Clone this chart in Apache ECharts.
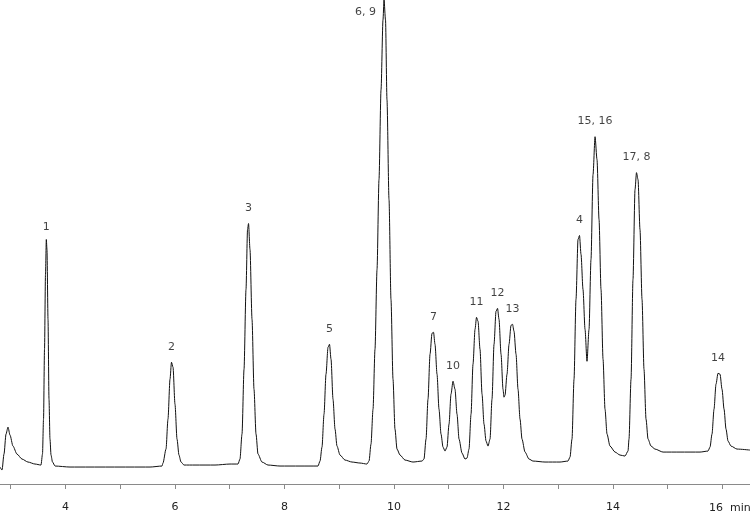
<!DOCTYPE html>
<html>
<head>
<meta charset="utf-8">
<script src="https://cdn.jsdelivr.net/npm/echarts@6/dist/echarts.min.js"></script>
<style>
  html, body { margin: 0; padding: 0; background: #fff; }
  #chart { width: 750px; height: 513px; }
</style>
</head>
<body>
<div id="chart"></div>
<script>
// retention time (min) and detector signal
var retentionTime = [
	2.805, 2.842, 2.878, 2.915, 2.951, 2.988, 3.042, 3.115, 3.207, 3.316, 3.444, 3.554,
	3.581, 3.600, 3.618, 3.636, 3.651, 3.663, 3.682, 3.700, 3.718, 3.737, 3.764, 3.810,
	4.084, 4.449, 4.814, 5.179, 5.545, 5.764,
	5.782, 5.837, 5.873, 5.910, 5.937, 5.965, 6.001, 6.038, 6.074, 6.111, 6.166, 6.367, 6.732, 7.006, 7.152,
	7.188, 7.225, 7.262, 7.298, 7.326, 7.344, 7.371, 7.408, 7.444, 7.481, 7.517, 7.590, 7.700, 7.919, 8.284, 8.613,
	8.650, 8.686, 8.723, 8.759, 8.796, 8.823, 8.851, 8.887, 8.924, 8.960, 9.015, 9.106, 9.234, 9.380, 9.508,
	9.545, 9.581, 9.618, 9.654, 9.691, 9.727, 9.764, 9.800, 9.819, 9.846, 9.873, 9.910, 9.946, 9.983, 10.019, 10.056, 10.111, 10.202, 10.348, 10.513,
	10.549, 10.586, 10.622, 10.659, 10.695, 10.723, 10.750, 10.787, 10.823, 10.860, 10.896, 10.933,
	10.969, 11.006, 11.042, 11.079, 11.115, 11.152, 11.189, 11.243, 11.298, 11.335,
	11.371, 11.408, 11.444, 11.481, 11.508, 11.536, 11.572, 11.609, 11.645, 11.682, 11.718,
	11.755, 11.791, 11.828, 11.864, 11.892, 11.919, 11.956, 11.992, 12.010,
	12.029, 12.065, 12.102, 12.138, 12.166, 12.193, 12.230, 12.266, 12.303, 12.339, 12.394, 12.467, 12.540, 12.759, 13.033, 13.179,
	13.216, 13.252, 13.289, 13.325, 13.362, 13.389, 13.417, 13.453, 13.490, 13.526,
	13.563, 13.599, 13.636, 13.673, 13.709, 13.746, 13.782, 13.819, 13.855, 13.892, 13.946, 14.038, 14.129, 14.220, 14.275,
	14.293, 14.330, 14.366, 14.403, 14.430, 14.458, 14.494, 14.531, 14.567, 14.604, 14.641, 14.695, 14.768, 14.915, 15.225, 15.590, 15.736,
	15.773, 15.809, 15.846, 15.882, 15.919, 15.956, 15.992, 16.029, 16.065, 16.102, 16.156, 16.266, 16.503
];
var signal = [
	17, 14, 30, 50, 57, 49, 38, 30, 25, 22, 20, 19,
	30, 65, 135, 210, 245, 235, 165, 85, 45, 29, 22, 18,
	17, 17, 17, 17, 17, 18,
	21, 35, 65, 105, 122, 117, 80, 45, 29, 22, 19, 19, 19, 20, 20,
	25, 50, 115, 195, 255, 261, 235, 165, 95, 50, 30, 22, 19, 18, 18, 18,
	23, 37, 70, 110, 137, 140, 125, 85, 55, 38, 29, 24, 22, 21, 20,
	23, 40, 75, 135, 215, 305, 395, 465, 485, 465, 385, 285, 185, 105, 55, 35, 29, 24, 22, 23,
	25, 45, 85, 130, 151, 152, 140, 110, 75, 50, 37, 33,
	37, 60, 90, 103, 95, 70, 45, 31, 25, 26,
	35, 70, 120, 155, 167, 163, 135, 90, 60, 43, 38,
	45, 85, 140, 173, 176, 165, 130, 95, 87,
	89, 110, 140, 159, 160, 153, 130, 95, 65, 45, 32, 25, 23, 22, 22, 23,
	27, 45, 105, 185, 245, 249, 230, 195, 155, 123,
	155, 225, 310, 348, 325, 265, 195, 125, 75, 50, 38, 32, 29, 28, 33,
	45, 105, 205, 295, 312, 305, 255, 185, 115, 65, 45, 38, 35, 32, 32, 32, 33,
	37, 50, 75, 100, 111, 110, 95, 75, 55, 43, 38, 35, 34
];

// axis ticks and labels (the last one is written together with the unit)
var tickTimes = [3, 4, 5, 6, 7, 8, 9, 10, 11, 12, 13, 14, 15, 16];
var labelTimes = [4, 6, 8, 10, 12, 14];
var lastLabel = '16  min';

// peak labels
var peakNames = ['1', '2', '3', '5', '6, 9', '7', '10', '11', '12', '13', '4', '15, 16', '17, 8', '14'];
var peakTimes = [3.651, 5.937, 7.344, 8.823, 9.819, 10.723, 11.079, 11.508, 11.892, 12.166, 13.389, 13.673, 14.430, 15.919];
var peakHeights = [245, 122, 261, 140, 485, 152, 103, 167, 176, 160, 249, 348, 312, 111];

var trace = [];
for (var i = 0; i < retentionTime.length; i++) {
	trace.push([retentionTime[i], signal[i]]);
}

var peaks = [];
for (var j = 0; j < peakNames.length; j++) {
	var item = {name: peakNames[j], value: [peakTimes[j], peakHeights[j]]};
	if (peakNames[j] == '6, 9') {
		item.label = {position: 'left', distance: 8, offset: [0, 12]};
	}
	if (peakNames[j] == '1') {
		item.label = {distance: 7};
	}
	peaks.push(item);
}

var txtFont = 'DejaVu Sans';

var myChart = echarts.init(document.getElementById('chart'));
var option = {
	animation: false,
	backgroundColor: '#fff',
	grid: {left: 0, right: 0, top: 0, bottom: 28, containLabel: false},
	xAxis: {
		type: 'value',
		min: 2.805,
		max: 16.503,
		axisLine: {show: true, lineStyle: {color: '#8a8a8a', width: 1}},
		axisTick: {show: true, length: 5, customValues: tickTimes, lineStyle: {color: '#8a8a8a'}},
		splitLine: {show: false},
		axisLabel: {
			margin: 18,
			color: '#222',
			fontFamily: txtFont,
			fontSize: 11,
			customValues: labelTimes,
			showMinLabel: true,
			showMaxLabel: true
		}
	},
	yAxis: {
		type: 'value',
		min: 0,
		max: 485,
		show: false
	},
	series: [
		{
			type: 'line',
			data: trace,
			showSymbol: false,
			smooth: 0.25,
			smoothMonotone: 'x',
			lineStyle: {color: '#111', width: 1},
			silent: true
		},
		{
			type: 'scatter',
			data: peaks,
			symbolSize: 0,
			silent: true,
			label: {
				show: true,
				position: 'top',
				distance: 10,
				formatter: '{b}',
				color: '#111',
				fontFamily: txtFont,
				fontSize: 11
			}
		}
	],
	graphic: [
		{
			type: 'text',
			left: 709,
			top: 503,
			style: {text: lastLabel, fill: '#222', font: '11px "DejaVu Sans"'}
		}
	]
};
myChart.setOption(option);
</script>
</body>
</html>
